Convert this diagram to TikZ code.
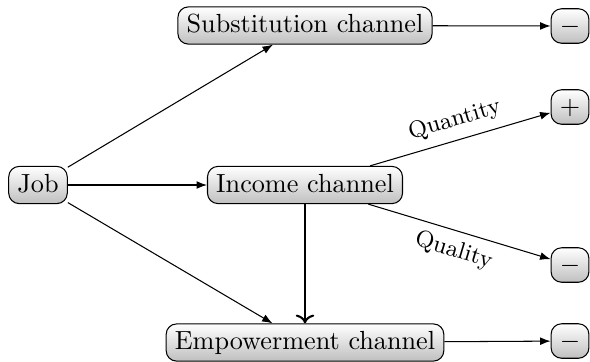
\documentclass[tikz,border=0pt]{standalone}
\usetikzlibrary{arrows.meta}
\begin{document}
\begin{tikzpicture}[x=0.3817pt, y=-0.3817pt,
  box/.style={draw, rounded corners=4pt, top color=white, bottom color=black!25,
    inner sep=3.33pt, text height=1.5ex, text depth=.25ex},
  sign/.style={box, text height=6.2pt, text depth=0.3pt},
  arr/.style={-{Latex[length=4pt,width=3pt]}},
  lab/.style={font=\small, midway, sloped}]
\useasboundingbox (0,0) rectangle (590,361);
\node[box] (job) at (38,185) {Job};
\node[box] (sub) at (305,25.5) {Substitution channel};
\node[box] (inc) at (305,185) {Income channel};
\node[box] (emp) at (305,342.5) {Empowerment channel};
\node[sign] (s1) at (570,26) {$-$};
\node[sign] (s2) at (570,107) {$+$};
\node[sign] (s3) at (570,265) {$-$};
\node[sign] (s4) at (570,341) {$-$};
\draw[arr] (job) -- (sub);
\draw[arr] (job) -- (inc);
\draw[arr] (job) -- (emp);
\draw[arr] (sub) -- (s1);
\draw[arr] (inc) -- node[lab, above] {Quantity} (s2);
\draw[arr] (inc) -- node[lab, below] {Quality} (s3);
\draw[->, thick] (inc) -- (emp);
\draw[arr] (emp) -- (s4);
\end{tikzpicture}
\end{document}
